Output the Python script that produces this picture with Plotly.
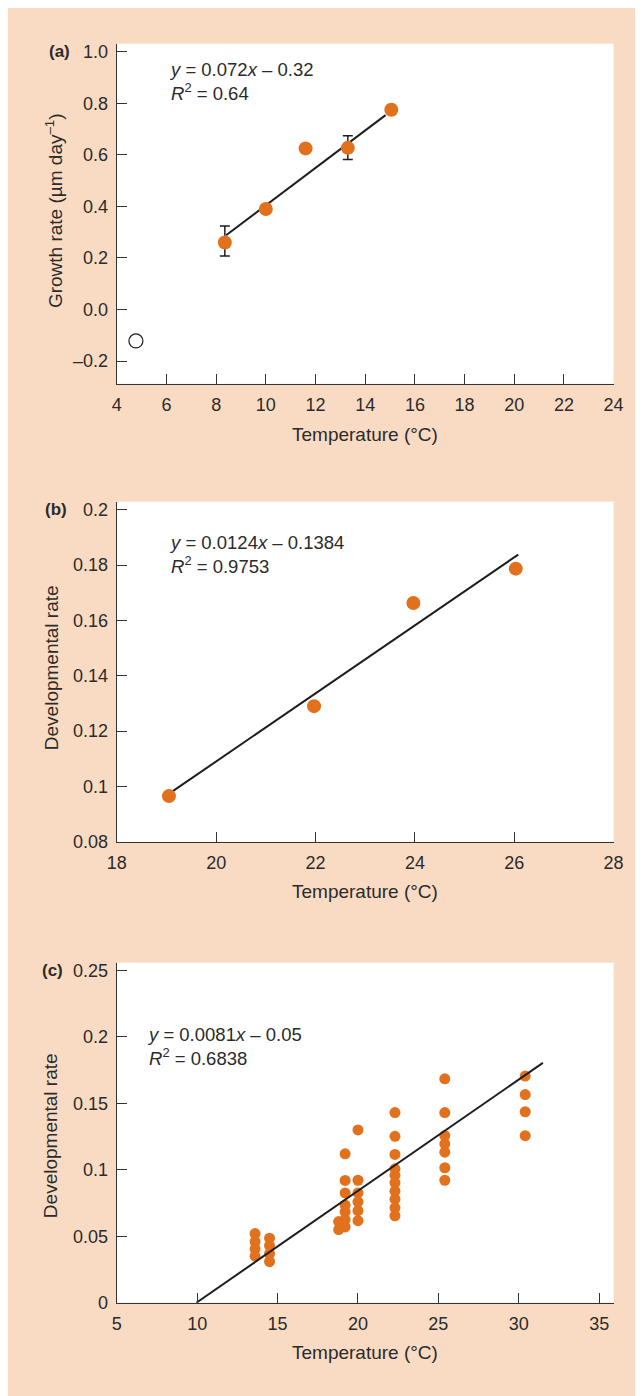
import plotly.graph_objects as go

# page body keeps its default 8px margin (the white strip at top/left);
# figure fills the rest of the 643x1396 window
OFF = 8
W, H = 643 - OFF, 1396 - OFF
PEACH = "#F9DBC3"
ORANGE = "#E2711D"
INK = "#2b2b2b"
FONT = "Liberation Sans, Arial, Helvetica, sans-serif"

# ---------- Panel (a) ----------
a_temp = [8.35, 10.0, 11.6, 13.3, 15.05]
a_growth = [0.26, 0.39, 0.625, 0.627, 0.775]
a_err_plus = [0.064, 0.0, 0.0, 0.047, 0.0]
a_err_minus = [0.052, 0.0, 0.0, 0.045, 0.0]
a_outlier_temp = [4.77]
a_outlier_growth = [-0.122]
a_fit_x = [8.4, 14.82]
a_fit_y = [0.288, 0.754]
a_xticks = [4, 6, 8, 10, 12, 14, 16, 18, 20, 22, 24]
a_yticks = [-0.2, 0.0, 0.2, 0.4, 0.6, 0.8, 1.0]
a_ytext = ["\u20130.2", "0.0", "0.2", "0.4", "0.6", "0.8", "1.0"]

# ---------- Panel (b) ----------
b_temp = [19.05, 21.97, 23.97, 26.03]
b_rate = [0.0965, 0.129, 0.1663, 0.1787]
b_fit_x = [19.12, 26.08]
b_fit_y = [0.0982, 0.1838]
b_xticks = [18, 20, 22, 24, 26, 28]
b_yticks = [0.08, 0.10, 0.12, 0.14, 0.16, 0.18, 0.20]
b_ytext = ["0.08", "0.1", "0.12", "0.14", "0.16", "0.18", "0.2"]

# ---------- Panel (c) ----------
c_temp = ([13.6] * 4 + [14.5] * 4 + [18.8] * 2 + [19.2] * 7 + [20.0] * 6
          + [22.3] * 10 + [25.4] * 7 + [30.4] * 4)
c_rate = ([0.052, 0.046, 0.0405, 0.035]
          + [0.0485, 0.043, 0.037, 0.031]
          + [0.061, 0.055]
          + [0.112, 0.092, 0.0826, 0.0734, 0.0684, 0.0625, 0.057]
          + [0.1299, 0.0921, 0.0826, 0.0759, 0.0692, 0.0617]
          + [0.143, 0.1251, 0.1115, 0.1007, 0.0958, 0.0903, 0.0839, 0.0779, 0.0714, 0.0654]
          + [0.1684, 0.143, 0.1257, 0.1194, 0.1132, 0.1015, 0.0921]
          + [0.1704, 0.1565, 0.1436, 0.1256])
c_fit_x = [9.95, 31.5]
c_fit_y = [0.0, 0.1804]
c_xticks = [5, 10, 15, 20, 25, 30, 35]
c_yticks = [0.0, 0.05, 0.10, 0.15, 0.20, 0.25]
c_ytext = ["0", "0.05", "0.1", "0.15", "0.2", "0.25"]


def px_x(p):
    return (p - OFF) / W


def px_y(p):
    return 1 - (p - OFF) / H


fig = go.Figure()

# panel (a)
fig.add_trace(go.Scatter(x=a_fit_x, y=a_fit_y, mode="lines",
                         line=dict(color="#1e1e1e", width=2), xaxis="x", yaxis="y",
                         showlegend=False))
fig.add_trace(go.Scatter(x=a_temp, y=a_growth, mode="markers",
                         marker=dict(color=ORANGE, size=14),
                         error_y=dict(type="data", array=a_err_plus, arrayminus=a_err_minus,
                                      color="#1e1e1e", thickness=1.5, width=5, symmetric=False),
                         xaxis="x", yaxis="y", showlegend=False))
fig.add_trace(go.Scatter(x=a_outlier_temp, y=a_outlier_growth, mode="markers",
                         marker=dict(color="white", size=14, line=dict(color="#1e1e1e", width=1.2)),
                         xaxis="x", yaxis="y", showlegend=False))

# panel (b)
fig.add_trace(go.Scatter(x=b_fit_x, y=b_fit_y, mode="lines",
                         line=dict(color="#1e1e1e", width=2), xaxis="x2", yaxis="y2",
                         showlegend=False))
fig.add_trace(go.Scatter(x=b_temp, y=b_rate, mode="markers",
                         marker=dict(color=ORANGE, size=14),
                         xaxis="x2", yaxis="y2", showlegend=False))

# panel (c)
fig.add_trace(go.Scatter(x=c_temp, y=c_rate, mode="markers",
                         marker=dict(color=ORANGE, size=11),
                         xaxis="x3", yaxis="y3", showlegend=False))
fig.add_trace(go.Scatter(x=c_fit_x, y=c_fit_y, mode="lines",
                         line=dict(color="#1e1e1e", width=2), xaxis="x3", yaxis="y3",
                         showlegend=False))

X_DOM = [px_x(110), px_x(623)]
panels = {
    "a": dict(top=42, bottom=385),
    "b": dict(top=504, bottom=847),
    "c": dict(top=969, bottom=1312),
}

axis_common = dict(showline=True, linecolor="#333333", linewidth=1.4, ticks="inside",
                   ticklen=10, tickwidth=1.4, tickcolor="#333333", showgrid=False,
                   zeroline=False, tickfont=dict(family=FONT, size=18, color=INK),
                   ticklabelstandoff=4)

layout_axes = {}
specs = [
    ("", "a", [4, 24], [-0.288, 1.031], a_xticks, a_yticks, a_ytext),
    ("2", "b", [18, 28], [0.08, 0.2029], b_xticks, b_yticks, b_ytext),
    ("3", "c", [5, 35.9], [0, 0.2557], c_xticks, c_yticks, c_ytext),
]
for suf, key, xr, yr, xt, yt, ytt in specs:
    p = panels[key]
    layout_axes["xaxis" + suf] = dict(axis_common, domain=X_DOM, range=xr, tickvals=xt,
                                      ticktext=[str(v) for v in xt],
                                      anchor="y" + suf)
    layout_axes["yaxis" + suf] = dict(axis_common, domain=[px_y(p["bottom"]), px_y(p["top"])],
                                      range=yr, tickvals=yt, ticktext=ytt,
                                      anchor="x" + suf)

annotations = []


def ann(text, xp, yp, size=19, xanchor="center", yanchor="middle", angle=0, bold=False, align="center"):
    annotations.append(dict(text=f"<b>{text}</b>" if bold else text, x=px_x(xp), y=px_y(yp),
                            xref="paper", yref="paper", showarrow=False,
                            xanchor=xanchor, yanchor=yanchor, textangle=angle, align=align,
                            font=dict(family=FONT, size=size, color=INK)))


# panel labels
ann("(a)", 51, 50, size=17, bold=True)
ann("(b)", 47, 512, size=17, bold=True)
ann("(c)", 44, 977, size=17, bold=True)

# axis titles
for yp in (436, 897, 1362):
    ann("Temperature (\u00b0C)", 366.5, yp, size=19)
ann("Growth rate (\u00b5m day<sup>\u20131</sup>)", 45, 210, size=19, angle=-90)
ann("Developmental rate", 42, 671, size=19, angle=-90)
ann("Developmental rate", 41, 1143, size=19, angle=-90)

# equations
ann("<i>y</i> = 0.072<i>x</i> \u2013 0.32<br><i>R</i><sup>2</sup> = 0.64", 162, 80,
    size=18.5, xanchor="left", align="left")
ann("<i>y</i> = 0.0124<i>x</i> \u2013 0.1384<br><i>R</i><sup>2</sup> = 0.9753", 162, 557,
    size=18.5, xanchor="left", align="left")
ann("<i>y</i> = 0.0081<i>x</i> \u2013 0.05<br><i>R</i><sup>2</sup> = 0.6838", 139, 1054,
    size=18.5, xanchor="left", align="left")

fig.update_layout(
    width=W, height=H,
    margin=dict(l=0, r=0, t=0, b=0),
    paper_bgcolor=PEACH, plot_bgcolor="white",
    font=dict(family=FONT, color=INK),
    annotations=annotations,
    **layout_axes,
)

fig.write_html("out.html", post_script="document.body.style.overflow='hidden';")
